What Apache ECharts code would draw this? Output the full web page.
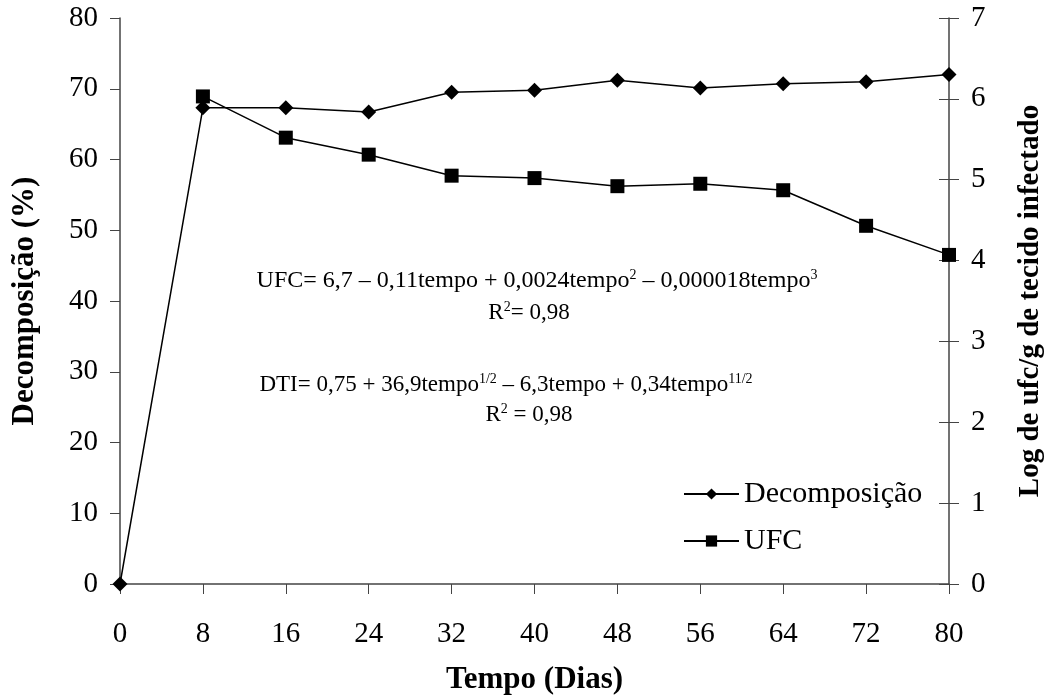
<!DOCTYPE html>
<html><head><meta charset="utf-8">
<script src="https://cdn.jsdelivr.net/npm/echarts@6/dist/echarts.min.js"></script>
<style>html,body{margin:0;padding:0;background:#fff}#c{width:1053px;height:700px}</style>
</head><body><div id="c"></div>
<script>
const dias = [0, 8, 16, 24, 32, 40, 48, 56, 64, 72, 80];
const decomposicao = [0, 67.3, 67.3, 66.7, 69.5, 69.8, 71.2, 70.1, 70.7, 71.0, 72.0];
const ufc = [null, 6.03, 5.52, 5.31, 5.05, 5.02, 4.92, 4.95, 4.87, 4.43, 4.07];

const F = 'Liberation Serif, Times New Roman, serif';
const chart = echarts.init(document.getElementById('c'));
const sup = {fontSize: 14, fontFamily: F, color: '#000', verticalAlign: 'top', padding: [0, 0, 12, 0]};
const base = {fontSize: 23, fontFamily: F, color: '#000'};
const base24 = {fontSize: 24, fontFamily: F, color: '#000'};
const axisCol = '#444';
chart.setOption({
  animation: false,
  grid: {left: 120, right: 103, top: 18, bottom: 116},
  legend: {
    orient: 'vertical', left: 678, top: 474, itemGap: 17, itemWidth: 55, itemHeight: 14,
    textStyle: {fontFamily: F, fontSize: 30, color: '#000'},
    data: ['Decomposição', 'UFC']
  },
  xAxis: {
    type: 'value', min: 0, max: 80, interval: 8,
    name: 'Tempo (Dias)', nameLocation: 'middle', nameGap: 80,
    nameTextStyle: {fontFamily: F, fontSize: 31, fontWeight: 'bold', color: '#000'},
    axisLine: {lineStyle: {color: axisCol, width: 1.5}},
    axisTick: {length: 10, lineStyle: {color: axisCol}},
    axisLabel: {fontFamily: F, fontSize: 29, color: '#000', margin: 36},
    splitLine: {show: false}
  },
  yAxis: [{
    type: 'value', min: 0, max: 80, interval: 10, position: 'left',
    name: 'Decomposição (%)', nameLocation: 'middle', nameGap: 80, nameRotate: 90,
    nameTextStyle: {fontFamily: F, fontSize: 31, fontWeight: 'bold', color: '#000'},
    axisLine: {show: true, lineStyle: {color: axisCol, width: 1.5}},
    axisTick: {show: true, length: 10, lineStyle: {color: axisCol}},
    axisLabel: {fontFamily: F, fontSize: 29, color: '#000', margin: 22},
    splitLine: {show: false}
  }, {
    type: 'value', min: 0, max: 7, interval: 1, position: 'right',
    name: 'Log de ufc/g de tecido infectado', nameLocation: 'middle', nameGap: 67, nameRotate: 90,
    nameTextStyle: {fontFamily: F, fontSize: 29, fontWeight: 'bold', color: '#000'},
    axisLine: {show: true, lineStyle: {color: axisCol, width: 1.5}},
    axisTick: {show: true, length: 10, lineStyle: {color: axisCol}},
    axisLabel: {fontFamily: F, fontSize: 29, color: '#000', margin: 22},
    splitLine: {show: false}
  }, {
    type: 'value', min: 0, max: 7, interval: 1, position: 'right',
    axisLine: {show: false},
    axisTick: {show: true, inside: true, length: 10, lineStyle: {color: axisCol}},
    axisLabel: {show: false},
    splitLine: {show: false}
  }],
  series: [{
    name: 'Decomposição', type: 'line', yAxisIndex: 0,
    data: dias.map((d, i) => [d, decomposicao[i]]),
    symbol: 'diamond', symbolSize: 15,
    lineStyle: {color: '#000', width: 1.5},
    itemStyle: {color: '#000'}
  }, {
    name: 'UFC', type: 'line', yAxisIndex: 1,
    data: dias.map((d, i) => [d, ufc[i]]),
    symbol: 'rect', symbolSize: 14,
    lineStyle: {color: '#000', width: 1.5},
    itemStyle: {color: '#000'}
  }],
  graphic: [{
    type: 'text', x: 537, y: 281,
    style: {
      text: '{b|UFC= 6,7 – 0,11tempo + 0,0024tempo}{s|2}{b| – 0,000018tempo}{s|3}',
      rich: {b: base24, s: sup}, align: 'center', verticalAlign: 'middle'
    }
  }, {
    type: 'text', x: 529, y: 313,
    style: {text: '{b|R}{s|2}{b|= 0,98}', rich: {b: base, s: sup}, align: 'center', verticalAlign: 'middle'}
  }, {
    type: 'text', x: 506, y: 385,
    style: {
      text: '{b|DTI= 0,75 + 36,9tempo}{s|1/2}{b| – 6,3tempo + 0,34tempo}{s|11/2}',
      rich: {b: base, s: sup}, align: 'center', verticalAlign: 'middle'
    }
  }, {
    type: 'text', x: 529, y: 415,
    style: {text: '{b|R}{s|2}{b| = 0,98}', rich: {b: base, s: sup}, align: 'center', verticalAlign: 'middle'}
  }]
});
</script></body></html>
